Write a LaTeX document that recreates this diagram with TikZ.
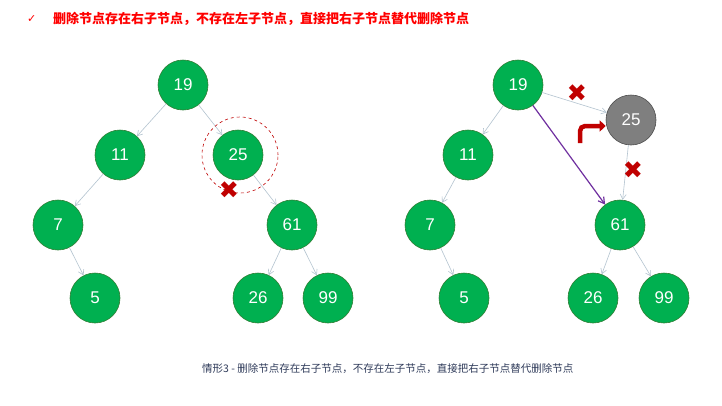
\documentclass[tikz,border=0pt]{standalone}
\usepackage{fontspec}
\setmainfont{Liberation Sans}
\newfontfamily\cjk{Noto Sans CJK SC}
\newfontfamily\sym{DejaVu Sans}
\usetikzlibrary{arrows.meta,calc}
\definecolor{gnode}{HTML}{00B050}
\definecolor{gborder}{HTML}{2E7D32}
\definecolor{greynode}{HTML}{7F7F7F}
\definecolor{edgec}{HTML}{B4C4D0}
\definecolor{xred}{HTML}{C00000}
\definecolor{titred}{HTML}{FF0000}
\definecolor{capc}{HTML}{2F3B5A}
\definecolor{purp}{HTML}{7030A0}
\tikzset{
  tnode/.style={circle,draw=gborder,line width=0.6pt,fill=gnode,minimum size=50pt,inner sep=0pt,text=white,font=\fontsize{17}{17}\selectfont},
  gnodeS/.style={tnode,fill=greynode,draw=black!70},
  edge/.style={draw=edgec,line width=0.6pt,-{Straight Barb[length=5pt,width=6pt]}},
  xmark/.style={text=xred,font=\sym\bfseries\fontsize{24}{24}\selectfont,inner sep=0pt}
}
\begin{document}
\begin{tikzpicture}[x=1pt,y=-1pt]
\path[use as bounding box,fill=white] (0,0) rectangle (722,405);
% title
\node[anchor=west,text=titred,inner sep=0pt,font=\sym\fontsize{11}{11}\selectfont] (chk) at (27,19) {✓};
\node[anchor=west,text=titred,inner sep=0pt,font=\cjk\bfseries\fontsize{13}{13}\selectfont] (title) at (53,19) {删除节点存在右子节点，不存在左子节点，直接把右子节点替代删除节点};
% left tree
\node[tnode] (a19) at (183,85) {19};
\node[tnode] (a11) at (120,155) {11};
\node[tnode] (a25) at (238,155) {25};
\node[tnode] (a7) at (58,225) {7};
\node[tnode] (a61) at (292,225) {61};
\node[tnode] (a5) at (95,298) {5};
\node[tnode] (a26) at (258,298) {26};
\node[tnode] (a99) at (328,298) {99};
\draw[edge] (a19) -- (a11);
\draw[edge] (a19) -- (a25);
\draw[edge] (a11) -- (a7);
\draw[edge] (a25) -- (a61);
\draw[edge] (a7) -- (a5);
\draw[edge] (a61) -- (a26);
\draw[edge] (a61) -- (a99);
\node[circle,draw=xred,dashed,line width=0.6pt,minimum size=76pt,inner sep=0pt] (ring) at (240,155) {};
\node[xmark] (x1) at (229,190) {✖};
% right tree
\node[tnode] (b19) at (518,85) {19};
\node[gnodeS] (b25) at (631,120) {25};
\node[tnode] (b11) at (468,155) {11};
\node[tnode] (b7) at (430,225) {7};
\node[tnode] (b61) at (620,225) {61};
\node[tnode] (b5) at (464,298) {5};
\node[tnode] (b26) at (593,298) {26};
\node[tnode] (b99) at (664,298) {99};
\draw[edge] (b19) -- (b11);
\draw[edge] (b19) -- (b25);
\draw[edge] (b25) -- (b61);
\draw[edge] (b11) -- (b7);
\draw[edge] (b7) -- (b5);
\draw[edge] (b61) -- (b26);
\draw[edge] (b61) -- (b99);
\draw[purp,line width=1.2pt,-{Straight Barb[length=6pt,width=7pt]}] (b19) -- (b61);
\node[xmark] (x2) at (577,93) {✖};
\node[xmark] (x3) at (633,170) {✖};
\coordinate (bs) at (580,143);
\coordinate (be) at ($(b25.west)+(0,6)$);
\draw[xred,line width=4.5pt,rounded corners=5pt,-{Triangle[length=6pt,width=11pt]}] (bs) -- (bs |- be) -- (be);
% caption
\node[anchor=west,text=capc,inner sep=0pt,font=\cjk\fontsize{10.5}{10.5}\selectfont] (cap) at (202,369) {情形3 - 删除节点存在右子节点，不存在左子节点，直接把右子节点替代删除节点};
\end{tikzpicture}
\end{document}
